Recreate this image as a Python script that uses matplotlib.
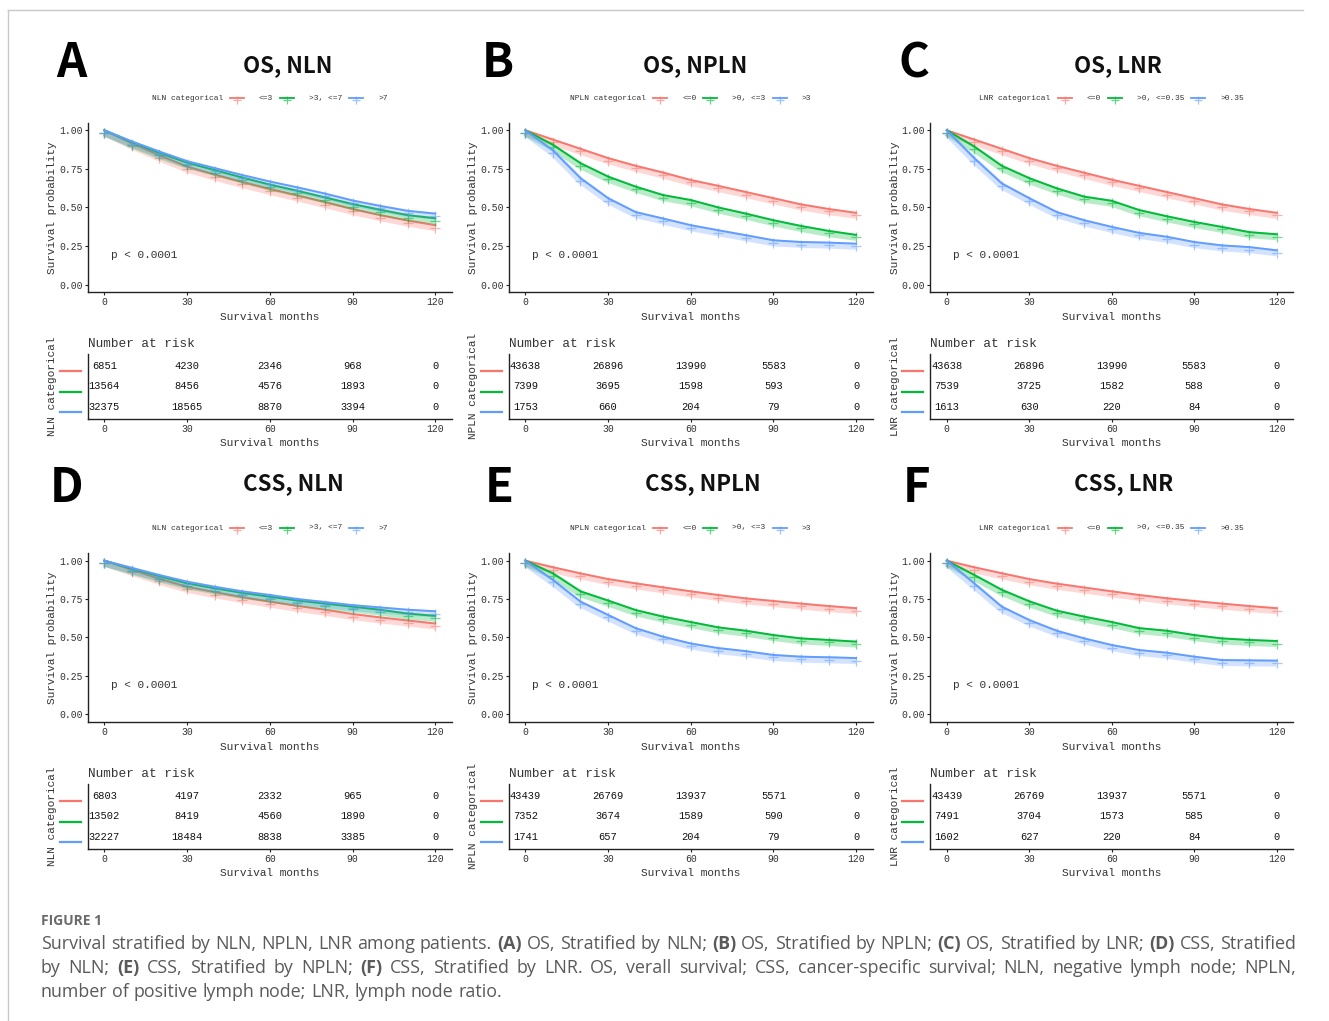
import matplotlib
matplotlib.use("Agg")
import matplotlib.pyplot as plt
import matplotlib.transforms as mtransforms
from matplotlib.lines import Line2D

W, H = 1329, 1021
MONO = "Liberation Mono"
TITLE_FONT = ["Noto Sans CJK SC", "DejaVu Sans"]
CAP_FONT = ["Open Sans", "DejaVu Sans"]
COLORS = ["#F8766D", "#00BA38", "#619CFF"]
TXT = "#333333"

# ── data ──────────────────────────────────────────────────────────────────────
months = [0, 10, 20, 30, 40, 50, 60, 70, 80, 90, 100, 110, 120]
risk_times = [0, 30, 60, 90, 120]

nln_labels = ["<=3", ">3, <=7", ">7"]
npln_labels = ["<=0", ">0, <=3", ">3"]
lnr_labels = ["<=0", ">0, <=0.35", ">0.35"]

# OS
os_nln_le3 = [1.0, 0.915, 0.838, 0.765, 0.713, 0.665, 0.62, 0.578, 0.535, 0.49, 0.45, 0.415, 0.385]
os_nln_3to7 = [1.0, 0.923, 0.853, 0.79, 0.742, 0.694, 0.648, 0.608, 0.565, 0.522, 0.485, 0.45, 0.43]
os_nln_gt7 = [1.0, 0.928, 0.862, 0.80, 0.755, 0.71, 0.668, 0.63, 0.59, 0.545, 0.51, 0.478, 0.46]

os_npln_le0 = [1.0, 0.94, 0.88, 0.82, 0.77, 0.726, 0.678, 0.64, 0.60, 0.56, 0.52, 0.49, 0.465]
os_npln_0to3 = [1.0, 0.906, 0.787, 0.70, 0.635, 0.58, 0.548, 0.50, 0.46, 0.417, 0.38, 0.348, 0.322]
os_npln_gt3 = [1.0, 0.87, 0.69, 0.56, 0.47, 0.428, 0.385, 0.352, 0.32, 0.287, 0.276, 0.272, 0.265]

os_lnr_le0 = [1.0, 0.94, 0.88, 0.82, 0.77, 0.725, 0.68, 0.64, 0.60, 0.56, 0.52, 0.49, 0.465]
os_lnr_0to35 = [1.0, 0.895, 0.77, 0.69, 0.624, 0.57, 0.543, 0.483, 0.443, 0.406, 0.374, 0.34, 0.326]
os_lnr_gt35 = [1.0, 0.82, 0.656, 0.56, 0.47, 0.417, 0.374, 0.335, 0.31, 0.276, 0.254, 0.243, 0.222]

# CSS
css_nln_le3 = [1.0, 0.94, 0.882, 0.83, 0.795, 0.762, 0.733, 0.705, 0.68, 0.652, 0.63, 0.61, 0.59]
css_nln_3to7 = [1.0, 0.948, 0.898, 0.852, 0.82, 0.79, 0.765, 0.74, 0.72, 0.70, 0.68, 0.655, 0.64]
css_nln_gt7 = [1.0, 0.953, 0.906, 0.863, 0.83, 0.80, 0.776, 0.75, 0.73, 0.71, 0.695, 0.68, 0.67]

css_npln_le0 = [1.0, 0.957, 0.917, 0.88, 0.852, 0.826, 0.80, 0.776, 0.754, 0.737, 0.72, 0.704, 0.69]
css_npln_0to3 = [1.0, 0.917, 0.80, 0.74, 0.678, 0.635, 0.60, 0.565, 0.543, 0.515, 0.493, 0.483, 0.472]
css_npln_gt3 = [1.0, 0.874, 0.733, 0.646, 0.56, 0.504, 0.46, 0.43, 0.41, 0.385, 0.374, 0.37, 0.365]

css_lnr_le0 = [1.0, 0.957, 0.918, 0.88, 0.85, 0.825, 0.80, 0.776, 0.755, 0.737, 0.72, 0.704, 0.69]
css_lnr_0to35 = [1.0, 0.907, 0.81, 0.735, 0.674, 0.635, 0.60, 0.56, 0.543, 0.515, 0.493, 0.483, 0.476]
css_lnr_gt35 = [1.0, 0.852, 0.70, 0.613, 0.543, 0.493, 0.45, 0.417, 0.40, 0.374, 0.352, 0.35, 0.348]

# numbers at risk (rows: red, green, blue)
os_nln_risk = [[6851, 4230, 2346, 968, 0], [13564, 8456, 4576, 1893, 0], [32375, 18565, 8870, 3394, 0]]
os_npln_risk = [[43638, 26896, 13990, 5583, 0], [7399, 3695, 1598, 593, 0], [1753, 660, 204, 79, 0]]
os_lnr_risk = [[43638, 26896, 13990, 5583, 0], [7539, 3725, 1582, 588, 0], [1613, 630, 220, 84, 0]]
css_nln_risk = [[6803, 4197, 2332, 965, 0], [13502, 8419, 4560, 1890, 0], [32227, 18484, 8838, 3385, 0]]
css_npln_risk = [[43439, 26769, 13937, 5571, 0], [7352, 3674, 1589, 590, 0], [1741, 657, 204, 79, 0]]
css_lnr_risk = [[43439, 26769, 13937, 5571, 0], [7491, 3704, 1573, 585, 0], [1602, 627, 220, 84, 0]]

panels = [
    ("A", "OS, NLN", "NLN", nln_labels, [os_nln_le3, os_nln_3to7, os_nln_gt7], os_nln_risk),
    ("B", "OS, NPLN", "NPLN", npln_labels, [os_npln_le0, os_npln_0to3, os_npln_gt3], os_npln_risk),
    ("C", "OS, LNR", "LNR", lnr_labels, [os_lnr_le0, os_lnr_0to35, os_lnr_gt35], os_lnr_risk),
    ("D", "CSS, NLN", "NLN", nln_labels, [css_nln_le3, css_nln_3to7, css_nln_gt7], css_nln_risk),
    ("E", "CSS, NPLN", "NPLN", npln_labels, [css_npln_le0, css_npln_0to3, css_npln_gt3], css_npln_risk),
    ("F", "CSS, LNR", "LNR", lnr_labels, [css_lnr_le0, css_lnr_0to35, css_lnr_gt35], css_lnr_risk),
]

# ── layout (pixels) ───────────────────────────────────────────────────────────
col_x = [(87.8, 451.8), (508.8, 872.6), (930.2, 1293.2)]
km_y = [(122.6, 292.3), (553.0, 721.7)]
risk_y = [(353.8, 418.9), (783.8, 848.9)]
km_xlabel_top = [311.5, 741.5]
risk_xlabel_top = [437.5, 867.5]
legend_y = [98.3, 528.0]
title_y = [66, 484]
letter_y = [63, 488]
title_x = [288, 695, 1118, 293, 703, 1124]
letter_x = [71, 498, 914, 67, 499, 917]

fig = plt.figure(figsize=(W / 100, H / 100), dpi=100)


def fx(x):
    return x / W


def fy(y):
    return 1 - y / H


def rect(l, t, r, b):
    return [fx(l), fy(b), (r - l) / W, (b - t) / H]


def style_axis(ax):
    ax.spines[["top", "right"]].set_visible(False)
    for s in ("left", "bottom"):
        ax.spines[s].set_linewidth(1.0)
        ax.spines[s].set_color("#222222")
    ax.tick_params(length=2.5, width=0.8, pad=1.2, labelsize=7, colors="#222222",
                   labelcolor=TXT)
    for lab in ax.get_xticklabels() + ax.get_yticklabels():
        lab.set_family(MONO)


def legend_row(var, labels, cx, y):
    cw = 4.75
    title = f"{var} categorical"
    parts = len(title) * cw
    for lab in labels:
        parts += 7 + 14 + 15 + len(lab) * cw
    x = cx - parts / 2
    fig.text(fx(x), fy(y), title, family=MONO, fontsize=5.7, color=TXT, va="center")
    x += len(title) * cw
    for lab, c in zip(labels, COLORS):
        x += 7
        fig.add_artist(Line2D([fx(x), fx(x + 14)], [fy(y), fy(y)], color=c, lw=1.3,
                              transform=fig.transFigure))
        fig.add_artist(Line2D([fx(x + 7)], [fy(y + 1.5)], color=c, marker="+", ms=6,
                              mew=0.9, alpha=0.6, lw=0, transform=fig.transFigure))
        x += 14 + 15
        fig.text(fx(x), fy(y), lab, family=MONO, fontsize=5.7, color=TXT, va="center")
        x += len(lab) * cw


for i, (letter, title, var, labels, curves, risk) in enumerate(panels):
    row, col = divmod(i, 3)
    l, r = col_x[col]
    t, b = km_y[row]
    ylab_x = -30.3 / (r - l)  # right edge of y labels, 30 px left of spine

    ax = fig.add_axes(rect(l, t, r, b))
    band = mtransforms.offset_copy(ax.transData, fig=fig, x=0, y=-2.5, units="dots")
    for s, c in zip(curves, COLORS):
        ax.plot(months, s, color=c, lw=5, alpha=0.28, transform=band,
                solid_capstyle="butt")
        ax.plot(months, s, color=c, lw=0, marker="+", ms=7, mew=0.9, alpha=0.55,
                transform=band)
        ax.plot(months, s, color=c, lw=1.4)
    ax.set_xlim(-6, 126)
    ax.set_ylim(-0.05, 1.05)
    ax.set_xticks(risk_times)
    ax.set_yticks([0, 0.25, 0.5, 0.75, 1.0])
    ax.set_yticklabels(["0.00", "0.25", "0.50", "0.75", "1.00"])
    style_axis(ax)
    ax.text(2.4, 0.19, "p < 0.0001", family=MONO, fontsize=8, color=TXT, va="center")
    ax.set_ylabel("Survival probability", family=MONO, fontsize=8, color=TXT)
    ax.yaxis.set_label_coords(ylab_x, 0.5)
    ax.set_xlabel("Survival months", family=MONO, fontsize=8, color=TXT)
    ax.xaxis.set_label_coords(0.5, (b - km_xlabel_top[row]) / (b - t))

    # risk table
    rt, rb = risk_y[row]
    axr = fig.add_axes(rect(l, rt, r, rb))
    strip = mtransforms.blended_transform_factory(axr.transAxes, axr.transData)
    for k, counts in enumerate(risk):
        yv = 3 - k
        for tm, n in zip(risk_times, counts):
            axr.text(tm, yv, str(n), family=MONO, fontsize=7.5, color="#111111",
                     ha="center", va="center")
        axr.plot([-27.8 / (r - l), -7.1 / (r - l)], [yv - 0.27, yv - 0.27],
                 color=COLORS[k], lw=1.6, clip_on=False, transform=strip)
    axr.set_xlim(-6, 126)
    axr.set_ylim(0.4, 3.6)
    axr.set_xticks(risk_times)
    axr.set_yticks([])
    style_axis(axr)
    axr.set_title("Number at risk", loc="left", family=MONO, fontsize=9.2, color=TXT,
                  pad=5)
    axr.set_ylabel(f"{var} categorical", family=MONO, fontsize=8, color=TXT)
    axr.yaxis.set_label_coords(ylab_x, 0.5)
    axr.set_xlabel("Survival months", family=MONO, fontsize=8, color=TXT)
    axr.xaxis.set_label_coords(0.5, (rb - risk_xlabel_top[row]) / (rb - rt))

    # headings and legend
    fig.text(fx(letter_x[i]), fy(letter_y[row]), letter, family=TITLE_FONT,
             fontsize=34, fontweight="bold", ha="center", va="center", color="black")
    fig.text(fx(title_x[i]), fy(title_y[row]), title, family=TITLE_FONT, fontsize=16,
             fontweight="bold", ha="center", va="center", color="#111111")
    legend_row(var, labels, (l + r) / 2, legend_y[row])

# frame lines
fig.add_artist(Line2D([fx(8), fx(1303)], [fy(10), fy(10)], color="#c8c8c8", lw=1,
                      transform=fig.transFigure))
fig.add_artist(Line2D([fx(8), fx(8)], [fy(10), fy(1021)], color="#c8c8c8", lw=1,
                      transform=fig.transFigure))

# ── caption (justified) ───────────────────────────────────────────────────────
fig.text(fx(41), fy(925), "FIGURE 1", family=CAP_FONT, fontsize=10, fontweight="bold",
         color="#6b6b6b", va="baseline")
cap_lines = [
    "Survival stratified by NLN, NPLN, LNR among patients. (A) OS, Stratified by NLN; "
    "(B) OS, Stratified by NPLN; (C) OS, Stratified by LNR; (D) CSS, Stratified",
    "by NLN; (E) CSS, Stratified by NPLN; (F) CSS, Stratified by LNR. OS, verall survival; "
    "CSS, cancer-specific survival; NLN, negative lymph node; NPLN,",
    "number of positive lymph node; LNR, lymph node ratio.",
]
bold_words = {"(A)", "(B)", "(C)", "(D)", "(E)", "(F)"}
cap_base = [949, 973, 997]
x_left, x_right = 41, 1296
renderer = fig.canvas.get_renderer()

# pick a size so the widest line fits the measure with ordinary spacing
probe = fig.text(0, 0, cap_lines[0], family=CAP_FONT, fontsize=14)
nat = probe.get_window_extent(renderer=renderer).width
probe.remove()
cap_size = 14 * (x_right - x_left) / nat * 0.985

for j, line in enumerate(cap_lines):
    words = line.split(" ")
    objs = []
    for w_ in words:
        objs.append(fig.text(0, fy(cap_base[j]), w_, family=CAP_FONT, fontsize=cap_size,
                             color="#5a5a5a", va="baseline",
                             fontweight="bold" if w_ in bold_words else "normal"))
    widths = [o.get_window_extent(renderer=renderer).width for o in objs]
    if j < len(cap_lines) - 1:
        gap = (x_right - x_left - sum(widths)) / (len(words) - 1)
    else:
        p1 = fig.text(0, 0, "a a", family=CAP_FONT, fontsize=cap_size)
        p2 = fig.text(0, 0, "aa", family=CAP_FONT, fontsize=cap_size)
        gap = (p1.get_window_extent(renderer=renderer).width
               - p2.get_window_extent(renderer=renderer).width)
        p1.remove()
        p2.remove()
    x = x_left
    for o, wd in zip(objs, widths):
        o.set_x(fx(x))
        x += wd + gap

fig.savefig("out.png", dpi=100)
